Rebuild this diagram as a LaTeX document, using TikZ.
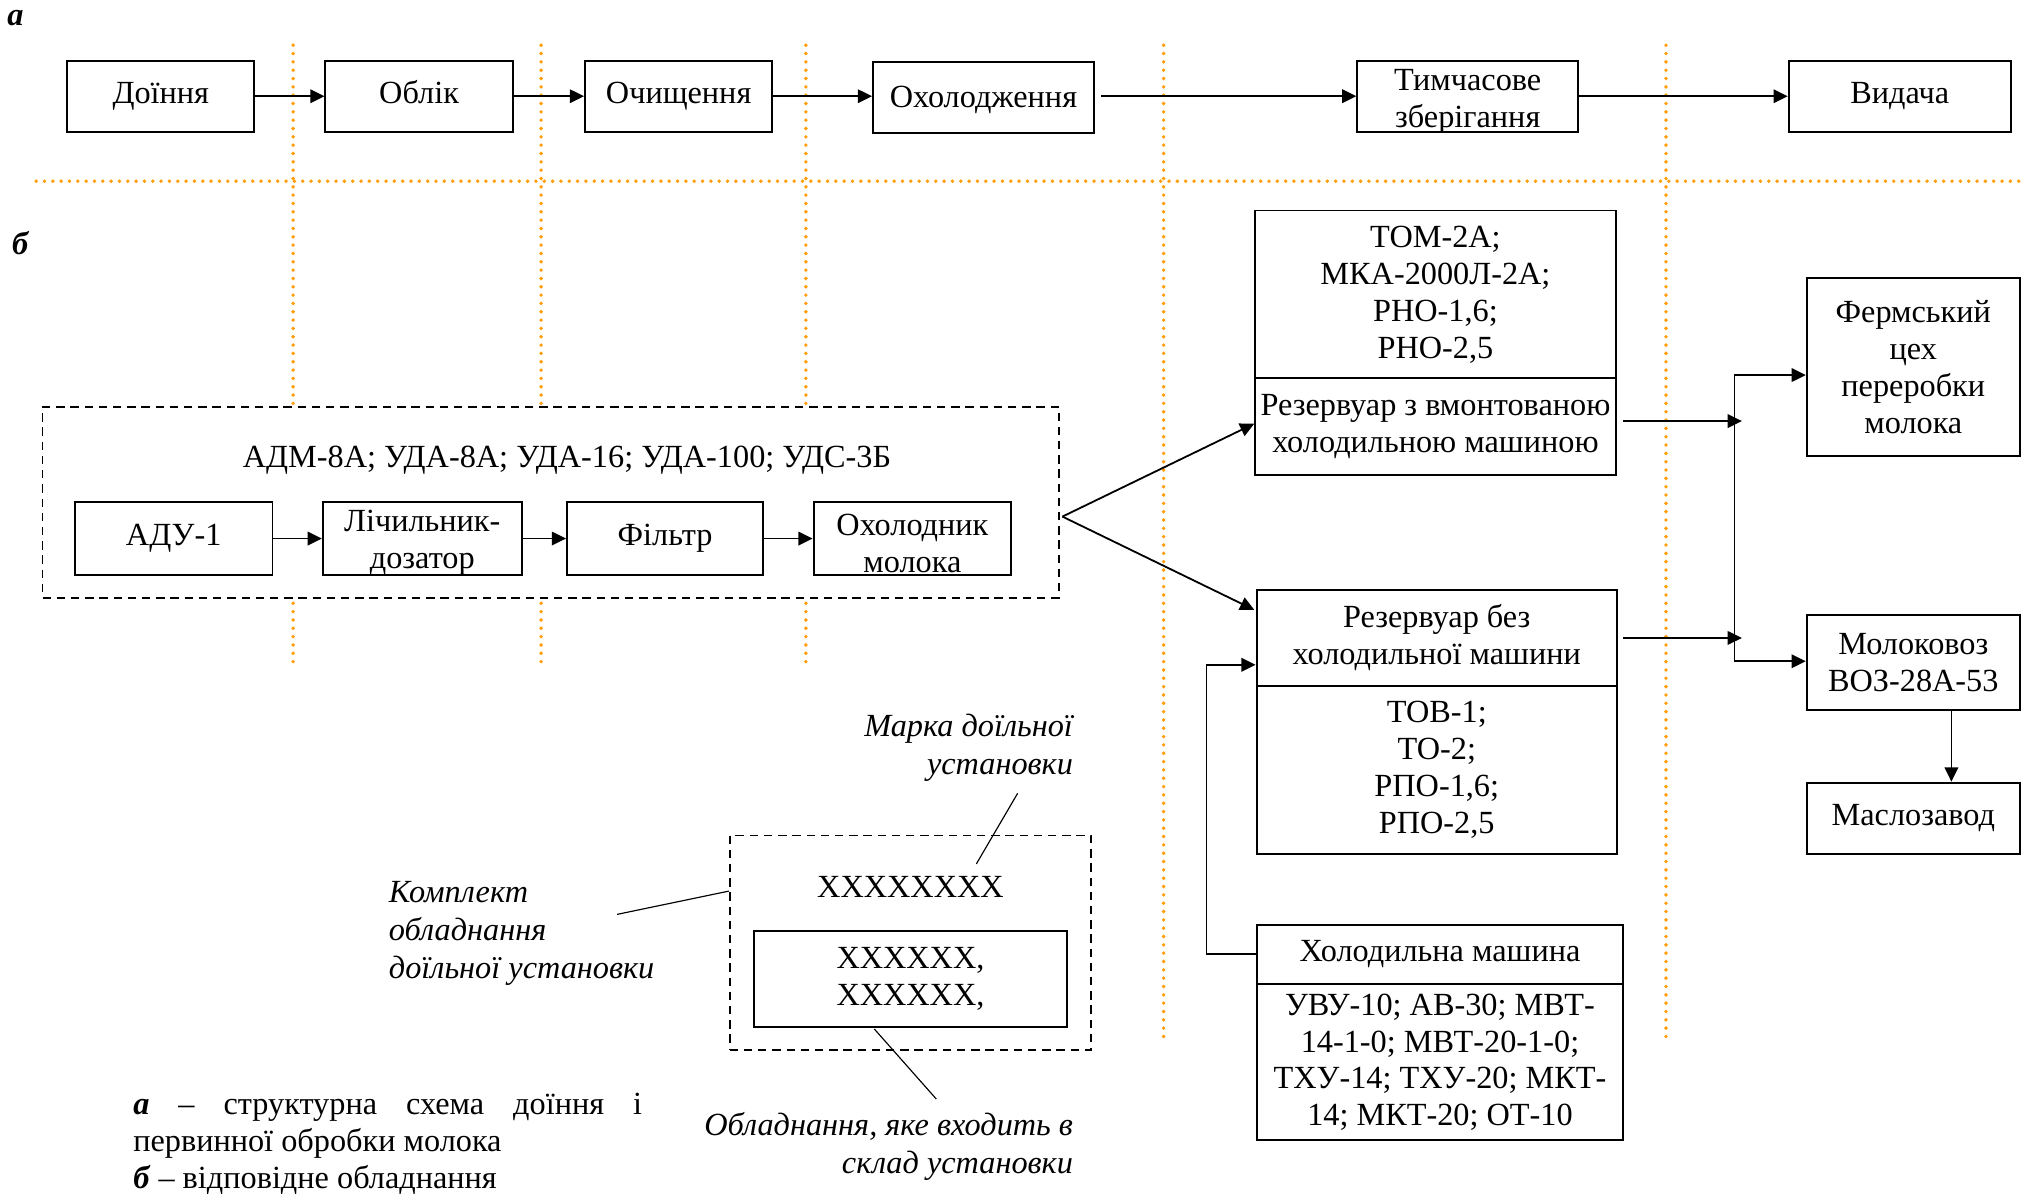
\documentclass[tikz,border=0pt]{standalone}
\usepackage{fontspec}
\setmainfont{Liberation Serif}
\usetikzlibrary{arrows.meta,calc}
\definecolor{dotor}{RGB}{255,158,10}
\tikzset{
  every node/.style={font=\fontsize{25}{28.6}\selectfont},
  bx/.style={draw, line width=1.5pt, inner sep=0pt, align=center},
  one/.style={text height=17.5pt, text depth=6.2pt},
  arr/.style={line width=1.4pt, -{Triangle[length=11pt,width=10.5pt]}},
  ln/.style={line width=1.4pt},
  lead/.style={line width=0.9pt},
  orl/.style={draw=dotor, line width=3pt, line cap=round, dash pattern=on 0pt off 6.45pt},
  dbox/.style={draw, line width=1.3pt, dash pattern=on 6.5pt off 4.5pt, fill=white, inner sep=0pt},
  itl/.style={font=\fontsize{25}{29.3}\selectfont\itshape, inner sep=0pt},
  txt/.style={inner sep=0pt, align=center},
}
\begin{document}
\begin{tikzpicture}[x=1pt,y=-1pt]
\useasboundingbox (0,0) rectangle (1568,924);

% orange dotted grid
\foreach \xx in {227,419,624} \draw[orl] (\xx,35) -- (\xx,518);
\foreach \xx in {901,1290} \draw[orl] (\xx,35) -- (\xx,805);
\draw[orl] (28,140.3) -- (1568,140.3);

% labels a, b
\node[txt] (la) at (12,14) {\textbf{\textit{а}}};
\node[txt] (lb) at (16,188) {\textbf{\textit{б}}};

% ---- top row (a)
\node[bx, one, minimum width=145pt, minimum height=55pt] (d1) at (124.5,74.5) {Доїння};
\node[bx, one, minimum width=145pt, minimum height=55pt] (d2) at (324.5,74.5) {Облік};
\node[bx, one, minimum width=145pt, minimum height=55pt] (d3) at (525.5,74.5) {Очищення};
\node[bx, minimum width=171pt, minimum height=55pt] (d4) at (761.5,75.5) {};
\node[txt, one] (d4t) at (761.5,77.5) {Охолодження};
\node[bx, minimum width=171pt, minimum height=55pt] (d5) at (1136.5,74.5) {};
\begin{scope}
  \clip (d5.south west) rectangle (d5.north east);
  \node[txt] (d5t) at (1136.5,78.75) {Тимчасове\\зберігання};
\end{scope}
\node[bx, one, minimum width=172pt, minimum height=55pt] (d6) at (1471,74.5) {Видача};

\draw[arr] (d1.east) -- (d2.west);
\draw[arr] (d2.east) -- (d3.west);
\draw[arr] (d3.east) -- (d3.east -| d4.west);
\draw[arr] ($(d4.east)+(5,-1)$) -- (d5.west);
\draw[arr] (d5.east) -- (d6.west);

% ---- middle (b): milking installation
\node[dbox, minimum width=787pt, minimum height=148pt] (db1) at (426.5,389) {};
\node[txt, one] (db1t) at (439,356) {АДМ-8А; УДА-8А; УДА-16; УДА-100; УДС-3Б};
\node[bx, one, minimum width=153pt, minimum height=56pt] (m1) at (134.5,417) {АДУ-1};
\node[bx, minimum width=154pt, minimum height=56pt] (m2) at (327,417) {};
\begin{scope}
  \clip (m2.south west) rectangle (m2.north east);
  \node[txt] (m2t) at (327,420.5) {Лічильник-\\дозатор};
\end{scope}
\node[bx, one, minimum width=152pt, minimum height=56pt] (m3) at (515,417) {Фільтр};
\node[bx, minimum width=153pt, minimum height=56pt] (m4) at (706.5,417) {};
\begin{scope}
  \clip (m4.south west) rectangle (m4.north east);
  \node[txt] (m4t) at (706.5,420.5) {Охолодник\\молока};
\end{scope}
\draw[arr] (m1.east) -- (m2.west);
\draw[arr] (m2.east) -- (m3.west);
\draw[arr] (m3.east) -- (m4.west);

% ---- reservoirs
\node[bx, minimum width=279pt, minimum height=130pt] (r1a) at (1111.5,228) {ТОМ-2А;\\МКА-2000Л-2А;\\РНО-1,6;\\РНО-2,5};
\node[bx, minimum width=279pt, minimum height=75pt] (r1b) at (1111.5,330.5) {Резервуар з вмонтованою\\холодильною машиною};
\node[bx, minimum width=279pt, minimum height=74pt] (r2a) at (1112.5,494) {Резервуар без\\холодильної машини};
\node[bx, minimum width=279pt, minimum height=130pt] (r2b) at (1112.5,596) {ТОВ-1;\\ТО-2;\\РПО-1,6;\\РПО-2,5};
\node[bx, one, minimum width=284pt, minimum height=46pt] (hm) at (1115,739) {Холодильна машина};
\node[bx, minimum width=284pt, minimum height=121pt] (hmb) at (1115,822.5) {УВУ-10; АВ-30; МВТ-\\14-1-0; МВТ-20-1-0;\\ТХУ-14; ТХУ-20; МКТ-\\14; МКТ-20; ОТ-10};

% fork from the installation to both reservoirs
\draw[arr] ($(db1.east)+(2,11)$) -- ($(r1b.west)+(0,-2.5)$);
\draw[arr] ($(db1.east)+(2,11)$) -- ($(r2a.north west)+(-1,16)$);

% refrigerating machine feed
\draw[arr] (hm.west) -- ++(-38,0) |- ($(r2a.south west)+(0,-17)$);

% ---- destinations
\node[bx, minimum width=165pt, minimum height=138pt] (fc) at (1481.5,284) {Фермський\\цех\\переробки\\молока};
\node[bx, minimum width=165pt, minimum height=74pt] (mv) at (1481.5,513) {Молоковоз\\ВОЗ-28А-53};
\node[bx, one, minimum width=165pt, minimum height=55pt] (mz) at (1481.5,633.5) {Маслозавод};

\coordinate (jt) at (1343,290.4);
\coordinate (jb) at (1343,512);
\draw[ln] (jb) -- (jt);
\draw[arr] (jt) -- (jt -| fc.west);
\draw[arr] (jb) -- (jb -| mv.west);
\draw[arr] ($(r1b.east)+(5,-4.5)$) -- ($(r1b.east)+(97,-4.5)$);
\draw[arr] ($(r2a.east)+(4,0)$) -- ($(r2a.east)+(96,0)$);
\draw[arr] ($(mv.south)+(29.5,0)$) -- ($(mz.north)+(29.5,0)$);

% ---- legend
\node[dbox, minimum width=280pt, minimum height=166pt] (ldb) at (705,730) {};
\node[txt, one] (lx) at (705,689) {XXXXXXXX};
\node[bx, minimum width=242pt, minimum height=74pt] (lin) at (705,758) {XXXXXX,\\XXXXXX,};

\node[itl, align=right, anchor=east] (lm) at (831,579) {Марка доїльної\\установки};
\node[itl, align=left, anchor=west] (lk) at (301,722.5) {Комплект\\обладнання\\доїльної установки};
\node[itl, align=right, anchor=east] (lo) at (831,887.5) {Обладнання, яке входить в\\склад установки};

\draw[lead] ($(lm.south east)+(-43,9)$) -- ($(lx.north)+(51,-8)$);
\draw[lead] ($(lk.east)+(-29,-14.5)$) -- ($(ldb.west)+(0,-40)$);
\draw[lead] ($(lin.south)+(-28,1)$) -- ($(lo.north east)+(-106,-10)$);

% ---- caption
\node[inner sep=0pt, text width=394pt, align=justify, anchor=base west] (cap) at (103,863)
  {\textbf{\textit{а}} – структурна схема доїння і\linebreak первинної обробки молока\par
   \textbf{\textit{б}} – відповідне обладнання};
\end{tikzpicture}
\end{document}
